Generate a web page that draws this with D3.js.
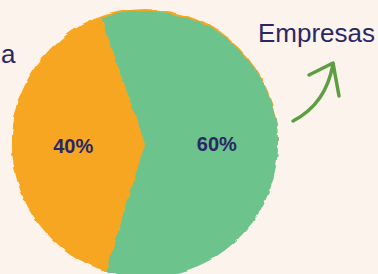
<!DOCTYPE html>
<html lang="en">
<head>
<meta charset="UTF-8">
<title>Empresas</title>
<script src="https://d3js.org/d3.v7.min.js"></script>
<style>
    html, body { margin: 0; padding: 0; background: #fcf3ec; }
    svg { display: block; }
    text { font-family: "Liberation Sans", Arial, sans-serif; }
</style>
</head>
<body>
<svg id="chart" width="378" height="274"></svg>
<script>
    // data
    const categories = ["Otros", "Empresas"];
    const values = [40, 60];
    const labels = ["40%", "60%"];
    const colors = ["#f7a620", "#6dc38c"];

    const svg = d3.select("#chart");
    const width = 378, height = 274;
    const cx = 145, cy = 144, radius = 133;

    // rough hand-drawn edge
    const defs = svg.append("defs");
    const rough = defs.append("filter").attr("id", "rough")
        .attr("x", "-10%").attr("y", "-10%").attr("width", "120%").attr("height", "120%");
    rough.append("feTurbulence")
        .attr("type", "fractalNoise").attr("baseFrequency", "0.02 0.12")
        .attr("numOctaves", 2).attr("seed", 5).attr("result", "noise");
    rough.append("feDisplacementMap")
        .attr("in", "SourceGraphic").attr("in2", "noise")
        .attr("scale", 4).attr("xChannelSelector", "R").attr("yChannelSelector", "G");

    const pie = d3.pie()
        .sort(null)
        .startAngle(197 * Math.PI / 180)
        .endAngle(557 * Math.PI / 180)
        .value(d => d);

    const arcs = pie(values);
    const arc = d3.arc().innerRadius(0).outerRadius(radius);
    const labelArc = d3.arc().innerRadius(radius * 0.54).outerRadius(radius * 0.54);

    const g = svg.append("g").attr("transform", `translate(${cx},${cy})`);

    // orange fringe behind the pie
    g.append("circle")
        .attr("cx", 0).attr("cy", -2)
        .attr("r", radius)
        .attr("fill", colors[0])
        .attr("filter", "url(#rough)");

    g.selectAll("path.slice")
        .data(arcs)
        .enter().append("path")
        .attr("class", "slice")
        .attr("d", arc)
        .attr("fill", (d, i) => colors[i])
        .attr("filter", "url(#rough)");

    g.selectAll("text.pct")
        .data(arcs)
        .enter().append("text")
        .attr("class", "pct")
        .attr("x", d => labelArc.centroid(d)[0])
        .attr("y", d => labelArc.centroid(d)[1] + 8)
        .attr("text-anchor", "middle")
        .style("font-size", "20px")
        .style("font-weight", "bold")
        .style("fill", "#2a2766")
        .text((d, i) => labels[i]);

    // side texts
    svg.append("text")
        .attr("x", 1).attr("y", 63)
        .style("font-size", "26px")
        .style("fill", "#2a2766")
        .text("a");

    svg.append("text")
        .attr("x", width - 3).attr("y", 42)
        .attr("text-anchor", "end")
        .style("font-size", "26px")
        .style("fill", "#2a2766")
        .text(categories[1]);

    // arrow
    const arrow = svg.append("g")
        .attr("fill", "none")
        .attr("stroke", "#5e9e42")
        .attr("stroke-width", 3.5)
        .attr("stroke-linecap", "round")
        .attr("stroke-linejoin", "round");
    arrow.append("path").attr("d", "M293,121 Q326,104 333,64");
    arrow.append("path").attr("d", "M309,75 L333,63 L339,96");
</script>
</body>
</html>
